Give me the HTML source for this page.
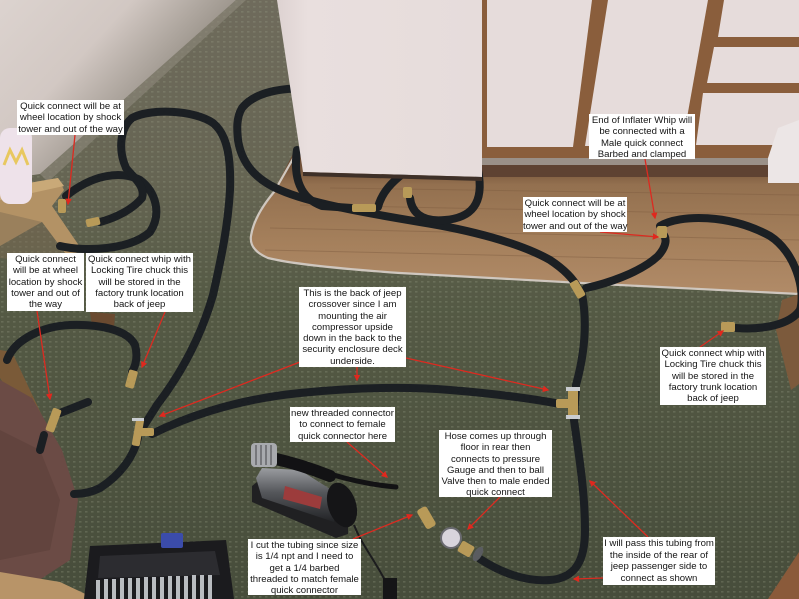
<!DOCTYPE html>
<html><head><meta charset="utf-8">
<style>
html,body{margin:0;padding:0;width:799px;height:599px;overflow:hidden;background:#4b513f;}
#wrap{position:relative;width:799px;height:599px;overflow:hidden;}
svg{position:absolute;left:0;top:0;}
.lb{position:absolute;background:#fff;color:#151515;font-family:"Liberation Sans",Arial,sans-serif;font-size:9.6px;line-height:11.3px;text-align:center;white-space:nowrap;box-sizing:border-box;padding-top:1px;}
</style></head><body><div id="wrap">
<svg width="799" height="599" viewBox="0 0 799 599">
<defs>
<linearGradient id="carp" x1="0" y1="0" x2="0" y2="599" gradientUnits="userSpaceOnUse">
 <stop offset="0" stop-color="#6f6b5c"/>
 <stop offset="0.3" stop-color="#666553"/>
 <stop offset="0.5" stop-color="#555a45"/>
 <stop offset="1" stop-color="#474d3b"/>
</linearGradient>
<pattern id="dots" width="6" height="5" patternUnits="userSpaceOnUse">
 <rect x="1" y="1" width="2.5" height="1.6" fill="#9aa088" opacity="0.28"/>
</pattern>
<linearGradient id="wall" x1="0" y1="0" x2="130" y2="120" gradientUnits="userSpaceOnUse">
 <stop offset="0" stop-color="#dcd3cf"/>
 <stop offset="0.55" stop-color="#d2c8c3"/>
 <stop offset="1" stop-color="#9c958c"/>
</linearGradient>
<linearGradient id="wood" x1="0" y1="165" x2="0" y2="295" gradientUnits="userSpaceOnUse">
 <stop offset="0" stop-color="#6e4e36"/>
 <stop offset="0.15" stop-color="#93704f"/>
 <stop offset="0.6" stop-color="#a5805c"/>
 <stop offset="1" stop-color="#b18b68"/>
</linearGradient>
<linearGradient id="box" x1="277" y1="0" x2="482" y2="0" gradientUnits="userSpaceOnUse">
 <stop offset="0" stop-color="#ddd2d1"/>
 <stop offset="0.15" stop-color="#e9dfde"/>
 <stop offset="1" stop-color="#e6dcdb"/>
</linearGradient>
<linearGradient id="chrome" x1="0" y1="0" x2="0" y2="1">
 <stop offset="0" stop-color="#9a9c a0"/>
 <stop offset="0" stop-color="#9a9ca0"/>
 <stop offset="0.45" stop-color="#55575b"/>
 <stop offset="1" stop-color="#222326"/>
</linearGradient>
<marker id="ah" viewBox="0 0 10 10" refX="8" refY="5" markerWidth="5" markerHeight="5" orient="auto"><path d="M0,0 L10,5 L0,10 z" fill="#e0281e"/></marker>
</defs>

<!-- carpet -->
<rect width="799" height="599" fill="url(#carp)"/>
<rect width="799" height="599" fill="url(#dots)"/>

<!-- wall -->
<polygon points="0,0 236,0 40,174 0,180" fill="url(#wall)"/>
<polygon points="236,0 246,0 48,182 40,174" fill="#8e887c" opacity="0.6"/>

<!-- wood floor -->
<path d="M296,148 L799,160 L799,294 L600,284 L400,273 Q300,266 268,258 Q248,250 250,236 Q254,214 272,194 Z" fill="url(#wood)"/>
<g stroke="#7e5c40" stroke-width="1" opacity="0.45">
 <line x1="300" y1="205" x2="799" y2="215"/>
 <line x1="270" y1="228" x2="799" y2="240"/>
 <line x1="265" y1="250" x2="799" y2="262"/>
 <line x1="330" y1="188" x2="799" y2="195"/>
</g>
<path d="M298,150 L274,192 Q254,216 251,236 Q249,250 268,258 Q300,266 400,273 L600,284 L799,294" fill="none" stroke="#cfc7bf" stroke-width="2.2"/>

<!-- cabinets -->
<rect x="480" y="0" width="319" height="175" fill="#8a5e3c"/>
<rect x="480" y="158" width="319" height="7" fill="#9a9088"/>
<rect x="480" y="165" width="319" height="12" fill="#5e4232"/>
<polygon points="487,0 592,0 573,147 487,147" fill="#e6dcdb"/>
<polygon points="608,0 708,0 682,146 585,146" fill="#e6dcdb"/>
<polygon points="724,0 799,0 799,37 718,37" fill="#e6dcdb"/>
<polygon points="714,47 799,47 799,83 707,83" fill="#e6dcdb"/>
<polygon points="703,93 799,93 799,128 785,145 696,145" fill="#e6dcdb"/>
<polygon points="778,128 799,120 799,183 768,183 768,158" fill="#ece6e6"/>

<!-- table + cup on left -->
<polygon points="0,188 58,178 64,190 52,206 82,250 68,257 42,222 0,246" fill="#b39265"/>
<polygon points="0,188 58,178 64,186 0,200" fill="#c9a978"/>
<polygon points="0,212 42,222 68,257 40,262 0,258" fill="#7d6a52" opacity="0.45"/>
<rect x="0" y="128" width="32" height="76" rx="10" fill="#eee2ea"/>
<path d="M4,165 L10,150 L16,162 L22,150 L28,165" fill="none" stroke="#e8c860" stroke-width="3"/>

<!-- left lower chair / couch -->
<polygon points="0,350 12,352 46,424 36,436 0,378" fill="#7a5a38"/>
<polygon points="0,380 32,398 62,450 78,500 70,560 30,586 0,590" fill="#6b4b45"/>
<polygon points="0,430 40,450 60,500 50,550 0,560" fill="#5a3d38" opacity="0.5"/>
<polygon points="0,572 60,582 96,599 0,599" fill="#b89468"/>
<polygon points="90,312 115,314 114,328 92,326" fill="#6a4a30"/>

<!-- right side wood -->
<polygon points="782,300 799,294 799,384 791,390 776,330" fill="#7c5a3c"/>
<polygon points="799,552 799,599 768,599" fill="#8a5a3a"/>

<!-- socket set -->
<polygon points="90,546 226,540 234,599 84,599" fill="#1b1b1e"/>
<polygon points="100,556 215,551 220,575 98,578" fill="#2c2c30"/>
<g fill="#b9bcc0">
 <rect x="96" y="580" width="4" height="19"/><rect x="104" y="579" width="4" height="20"/><rect x="112" y="579" width="4" height="20"/>
 <rect x="120" y="578" width="4" height="21"/><rect x="128" y="578" width="4" height="21"/><rect x="136" y="578" width="4" height="21"/>
 <rect x="144" y="577" width="4" height="22"/><rect x="152" y="577" width="4" height="22"/><rect x="160" y="577" width="4" height="22"/>
 <rect x="168" y="576" width="4" height="23"/><rect x="176" y="576" width="4" height="23"/><rect x="184" y="576" width="4" height="23"/>
 <rect x="192" y="575" width="4" height="24"/><rect x="200" y="575" width="4" height="24"/><rect x="208" y="575" width="4" height="24"/>
</g>
<rect x="161" y="533" width="22" height="15" rx="2" fill="#3b4caa"/>

<!-- compressor -->
<polygon points="252,486 262,478 348,514 348,534 336,538 252,502" fill="#202022"/>
<polygon points="262,468 300,470 338,494 334,522 262,498 256,478" fill="url(#chrome)"/>
<polygon points="285,486 322,497 320,509 283,499" fill="#9c3c3c"/>
<ellipse cx="342" cy="505" rx="14" ry="23" transform="rotate(-18 342 505)" fill="#151517"/>
<path d="M272,458 C290,462 310,468 330,476" stroke="#121214" stroke-width="12" fill="none" stroke-linecap="round"/>
<rect x="251" y="443" width="26" height="24" rx="4" fill="#a8aaae"/>
<g stroke="#5a5c60" stroke-width="1.3"><line x1="256" y1="445" x2="256" y2="465"/><line x1="261" y1="445" x2="261" y2="465"/><line x1="266" y1="445" x2="266" y2="465"/><line x1="271" y1="445" x2="271" y2="465"/></g>
<path d="M330,474 C350,480 372,485 396,487" stroke="#121214" stroke-width="5" fill="none" stroke-linecap="round"/>
<path d="M354,525 C362,545 372,556 386,582" stroke="#1c1c1e" stroke-width="2" fill="none"/>
<rect x="383" y="578" width="14" height="21" fill="#151517"/>

<!-- hoses -->
<g fill="none" stroke="#1b1f23" stroke-width="8" stroke-linecap="round" stroke-linejoin="round">
 <path d="M60,246 C85,252 130,250 150,232 C162,214 156,192 140,180 C120,170 92,175 66,196"/>
 <path d="M100,222 C115,218 132,210 142,198 C146,186 132,176 126,168 C118,150 120,128 132,118 C150,108 195,110 213,123 C228,135 231,160 230,190 C228,225 222,255 213,295 C200,340 180,375 157,405 L140,432"/>
 <path d="M138,438 C134,455 122,474 100,488 C90,493 82,494 74,494"/>
 <path d="M7,360 C15,338 45,326 70,325 C100,324 128,330 135,345 C138,356 136,365 132,372"/>
 <path d="M60,413 L88,402"/>
 <path d="M44,435 L40,450"/>
 <path d="M152,434 C180,420 230,400 300,393 C350,388 400,386 450,390 C500,394 540,400 560,404"/>
 <path d="M582,294 C586,315 587,345 576,385 L574,420 C578,450 585,490 585,530 C585,560 576,578 550,580 C525,582 500,572 480,559"/>
 <path d="M310,88 C280,88 255,92 242,108 C236,118 237,130 238,140 C241,160 252,178 280,190 C310,203 360,212 420,222 C470,230 520,243 550,260 C565,270 574,280 578,288"/>
 <path d="M297,150 C293,178 300,198 322,206 L352,208"/>
 <path d="M378,207 C382,192 392,182 405,172"/>
 <path d="M410,198 C412,215 425,222 445,220 C470,218 485,205 478,170"/>
 <path d="M586,288 C605,284 640,273 658,256 C667,246 667,238 663,234"/>
 <path d="M660,226 C680,214 730,214 770,236 C795,252 806,290 800,310 C790,325 762,330 736,328"/>
</g>

<!-- box / appliance drawn over hose ends -->
<polygon points="277,0 482,0 482,177 303,172" fill="url(#box)"/>
<polygon points="303,172 482,177 482,181 303,176" fill="#3e3028"/>

<!-- brass fittings -->
<g fill="#b89a58">
 <rect x="58" y="199" width="8" height="14" rx="2"/>
 <rect x="86" y="218" width="14" height="8" rx="2" transform="rotate(-12 93 222)"/>
 <rect x="127" y="370" width="9" height="18" rx="2" transform="rotate(15 131 379)"/>
 <rect x="49" y="408" width="9" height="24" rx="2" transform="rotate(20 53 420)"/>
 <rect x="134" y="418" width="8" height="28" rx="2" transform="rotate(10 138 432)"/>
 <rect x="140" y="428" width="14" height="8" rx="2"/>
 <rect x="352" y="204" width="24" height="8" rx="2"/>
 <rect x="403" y="187" width="9" height="11" rx="2"/>
 <rect x="573" y="280" width="9" height="18" rx="2" transform="rotate(-30 578 289)"/>
 <rect x="657" y="226" width="10" height="12" rx="2"/>
 <rect x="721" y="322" width="14" height="10" rx="2"/>
 <rect x="568" y="389" width="10" height="28" rx="2"/>
 <rect x="556" y="399" width="14" height="9" rx="2"/>
 <rect x="421" y="507" width="11" height="22" rx="3" transform="rotate(-30 426 518)"/>
 <rect x="459" y="543" width="14" height="12" rx="2" transform="rotate(30 466 549)"/>
</g>
<g fill="#c9ccd0">
 <rect x="566" y="387" width="14" height="4"/><rect x="566" y="415" width="14" height="4"/>
 <rect x="132" y="418" width="12" height="3"/>
</g>
<circle cx="451" cy="538" r="10" fill="#d8d4dc" stroke="#6a6a70" stroke-width="2"/>
<ellipse cx="478" cy="554" rx="4" ry="8" transform="rotate(30 478 554)" fill="#5a5c60"/>

<!-- red arrows -->
<g stroke="#dc2a20" stroke-width="1.3" fill="none" marker-end="url(#ah)">
 <line x1="75" y1="135" x2="68" y2="204"/>
 <line x1="37" y1="311" x2="50" y2="399"/>
 <line x1="165" y1="312" x2="142" y2="367"/>
 <line x1="300" y1="362" x2="160" y2="416"/>
 <line x1="357" y1="367" x2="357" y2="380"/>
 <line x1="406" y1="358" x2="548" y2="390"/>
 <line x1="645" y1="159" x2="655" y2="218"/>
 <line x1="600" y1="232" x2="658" y2="237"/>
 <line x1="700" y1="347" x2="723" y2="331"/>
 <line x1="347" y1="442" x2="387" y2="477"/>
 <line x1="500" y1="497" x2="468" y2="529"/>
 <line x1="353" y1="539" x2="412" y2="515"/>
 <line x1="648" y1="537" x2="590" y2="481"/>
 <line x1="603" y1="578" x2="574" y2="579"/>
</g>
</svg>

<div class="lb" style="left:17px;top:100px;width:107px;height:35px;">Quick connect will be at<br>wheel location by shock<br>tower and out of the way</div>
<div class="lb" style="left:7px;top:253px;width:77px;height:58px;">Quick connect<br>will be at wheel<br>location by shock<br>tower and out of<br>the way</div>
<div class="lb" style="left:86px;top:253px;width:107px;height:59px;">Quick connect whip with<br>Locking Tire chuck this<br>will be stored in the<br>factory trunk location<br>back of jeep</div>
<div class="lb" style="left:299px;top:287px;width:107px;height:80px;">This is the back of jeep<br>crossover since I am<br>mounting the air<br>compressor upside<br>down in the back to the<br>security enclosure deck<br>underside.</div>
<div class="lb" style="left:589px;top:114px;width:106px;height:45px;">End of Inflater Whip will<br>be connected with a<br>Male quick connect<br>Barbed and clamped</div>
<div class="lb" style="left:523px;top:197px;width:104px;height:35px;">Quick connect will be at<br>wheel location by shock<br>tower and out of the way</div>
<div class="lb" style="left:660px;top:347px;width:106px;height:58px;">Quick connect whip with<br>Locking Tire chuck this<br>will be stored in the<br>factory trunk location<br>back of jeep</div>
<div class="lb" style="left:290px;top:407px;width:105px;height:35px;">new threaded connector<br>to connect to female<br>quick connector here</div>
<div class="lb" style="left:439px;top:430px;width:113px;height:67px;">Hose comes up through<br>floor in rear then<br>connects to pressure<br>Gauge and then to ball<br>Valve then to male ended<br>quick connect</div>
<div class="lb" style="left:248px;top:539px;width:113px;height:56px;">I cut the tubing since size<br>is 1/4 npt and I need to<br>get a 1/4 barbed<br>threaded to match female<br>quick connector</div>
<div class="lb" style="left:603px;top:537px;width:112px;height:48px;line-height:11.5px;">I will pass this tubing from<br>the inside of the rear of<br>jeep passenger side to<br>connect as shown</div>
</div></body></html>
